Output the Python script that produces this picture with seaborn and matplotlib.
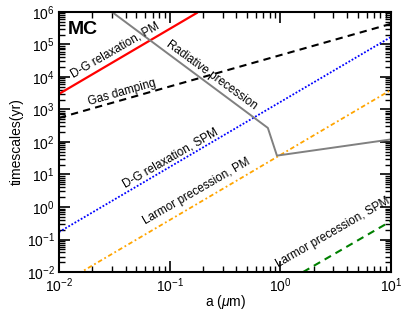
import numpy as np
import pandas as pd
import matplotlib
matplotlib.use("Agg")
import matplotlib.pyplot as plt
import seaborn as sns
from matplotlib.ticker import LogLocator, NullFormatter

# grain size (um) endpoints
a_dg_pm = [0.01, 0.177]
t_dg_pm = [3.0e3, 9.4e5]
a_gas = [0.01, 10.0]
t_gas = [5.5e2, 4.3e5]
a_dg_spm = [0.01, 10.0]
t_dg_spm = [0.17, 1.7e5]
a_lar_pm = [0.0148, 10.0]
t_lar_pm = [8.7e-3, 4.0e3]
a_lar_spm = [1.6, 10.0]
t_lar_spm = [0.01, 0.37]
a_rad = [0.03, 0.77, 0.93, 10.0]
t_rad = [1.0e6, 2.7e2, 38.0, 1.2e2]

sns.set_style("ticks", {"axes.edgecolor": "black", "text.color": "black",
                        "axes.labelcolor": "black", "xtick.color": "black",
                        "ytick.color": "black"})
plt.rcParams['font.family'] = ['Liberation Sans', 'DejaVu Sans']
plt.rcParams['mathtext.fontset'] = 'custom'
plt.rcParams['mathtext.rm'] = 'Liberation Sans'
plt.rcParams['mathtext.it'] = 'Liberation Sans:italic'

fig = plt.figure(figsize=(4.07, 3.12), dpi=100)
ax = fig.add_axes([0.145, 0.128, 0.816, 0.834])

sns.lineplot(x=a_dg_pm, y=t_dg_pm, ax=ax, color='red', lw=1.6)
sns.lineplot(x=a_gas, y=t_gas, ax=ax, color='black', lw=1.5, linestyle=(0, (3.5, 2.5)))
sns.lineplot(x=a_dg_spm, y=t_dg_spm, ax=ax, color='blue', lw=1.3, linestyle=(0, (1, 1)))
sns.lineplot(x=a_lar_pm, y=t_lar_pm, ax=ax, color='orange', lw=1.3, linestyle=(0, (2.5, 1.5, 1, 1.5)))
sns.lineplot(x=a_lar_spm, y=t_lar_spm, ax=ax, color='green', lw=1.5, linestyle=(0, (3.5, 2.5)))
sns.lineplot(x=a_rad, y=t_rad, ax=ax, color='gray', lw=1.4, sort=False)

ax.set_xscale('log')
ax.set_yscale('log')
ax.set_xlim(1e-2, 1e1)
ax.set_ylim(1e-2, 1e6)

ax.yaxis.set_major_locator(LogLocator(base=10, numticks=20))
ax.yaxis.set_minor_locator(LogLocator(base=10, subs=np.arange(2, 10), numticks=20))
ax.yaxis.set_minor_formatter(NullFormatter())
ax.xaxis.set_minor_locator(LogLocator(base=10, subs=np.arange(2, 10), numticks=20))
ax.xaxis.set_minor_formatter(NullFormatter())

ax.tick_params(which='both', direction='in', top=True, right=True, labelsize=10)
ax.tick_params(which='major', length=8, width=1.2, pad=3)
ax.tick_params(which='minor', length=4, width=1.0)
for s in ax.spines.values():
    s.set_linewidth(1.5)

ax.set_xlabel(r"a ($\mu$m)", fontsize=10, labelpad=-1)
ax.set_ylabel("timescales(yr)", fontsize=10, labelpad=2)

ax.text(0.027, 0.965, "MC", transform=ax.transAxes, fontsize=14, fontweight='bold', va='top')
ax.text(0.032, 6.5e4, "D-G relaxation, PM", rotation=30, fontsize=8.5, ha='center', va='center')
ax.text(0.037, 3.4e3, "Gas damping", rotation=16, fontsize=8.5, ha='center', va='center')
ax.text(0.24, 1.1e4, "Radiative precession", rotation=-36, fontsize=8.5, ha='center', va='center')
ax.text(0.101, 31, "D-G relaxation, SPM", rotation=30, fontsize=8.5, ha='center', va='center')
ax.text(0.175, 3.0, "Larmor precession, PM", rotation=30, fontsize=8.5, ha='center', va='center')
ax.text(3.0, 0.17, "Larmor precession, SPM", rotation=30, fontsize=8.5, ha='center', va='center')

fig.savefig("out.png", dpi=100)
